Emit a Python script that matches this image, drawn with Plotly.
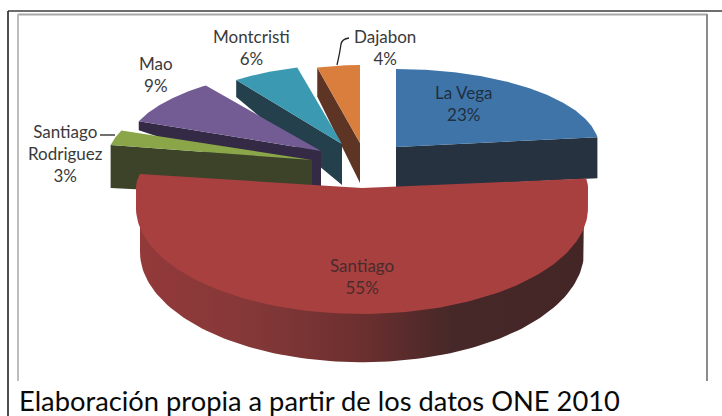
import numpy as np
import plotly.graph_objects as go

# --- data ---
categories = ["La Vega", "Santiago", "Santiago<br>Rodriguez", "Mao", "Montcristi", "Dajabon"]
values = [23, 55, 3, 9, 6, 4]
caption = "Elaboración propia a partir de los datos ONE 2010"

# --- per-slice projection (style/geometry of the 3D look), pixel units ---
centers = [(396, 147), (362, 188), (312, 160), (321, 151), (342, 144), (360, 143)]
rx = [203, 226, 205, 196, 180, 172]
ry_far = [78, 75, 80, 81, 79, 78]
ry_near = [78, 106, 80, 81, 79, 78]
near_drop = [0, 20, 0, 0, 0, 0]
depth_apex = [41, 44, 38, 40, 41, 40]
depth_rim = [41, 44, 43, 9, 17, 29]
top_colors = ["#3f74a9", "#a84040", "#8aa648", "#735b93", "#3b9ab1", "#d97e3c"]
side_colors = ["#26323f", "#6b2e2e", "#3c4329", "#342a45", "#24404d", "#5e3525"]
label_colors = ["#1f2f40", "#4a2b2b", "#3a3a3a", "#3a3a3a", "#3a3a3a", "#3a3a3a"]
label_pos = [(463, 103), (362, 276), (65, 153), (156, 74), (251, 47), (385, 47)]
draw_order = [5, 4, 3, 2, 0, 1]
FONT = "Lato"

edges = np.cumsum([0] + values) / sum(values) * 360.0


def rim(i, deg):
    """Project a clockwise-from-top angle to the slice's tilted ellipse."""
    t = np.radians(deg)
    u, v = np.sin(t), np.cos(t)
    cx, cy = centers[i]
    x = cx + rx[i] * u
    y = np.where(v >= 0, cy - ry_far[i] * v, cy + near_drop[i] - ry_near[i] * v)
    return x, y


fig = go.Figure()


def poly(xs, ys, color, **kw):
    fig.add_trace(go.Scatter(x=list(xs), y=list(ys), mode="lines", fill="toself",
                             fillcolor=color, line=dict(width=0, color=color),
                             hoverinfo="skip", showlegend=False, **kw))


for i in draw_order:
    a0, a1 = edges[i], edges[i + 1]
    cx, cy = centers[i]
    ang = np.linspace(a0, a1, 140)
    xs, ys = rim(i, ang)
    if categories[i] == "Santiago":
        # curved outer wall, shaded left to right; rises behind the top face
        t = np.radians(np.linspace(90, 270, 120))
        bx = cx + 222 * np.sin(t)
        by = cy + near_drop[i] + depth_apex[i] - ry_near[i] * 1.04 * np.cos(t)
        top = cy + near_drop[i]
        fig.add_trace(go.Scatter(
            x=[cx + 222] + list(bx) + [cx - 222],
            y=[top] + list(by) + [top], mode="lines", fill="toself",
            line=dict(width=0, color="#6b2e2e"), hoverinfo="skip", showlegend=False,
            fillgradient=dict(type="horizontal", colorscale=[
                [0, "#93393a"], [0.25, "#853838"], [0.5, "#6c2f2f"],
                [0.7, "#472828"], [1, "#442626"]])))
    else:
        # straight cut wall along the radial edge that faces the viewer
        edge = a1 if categories[i] == "La Vega" else a0
        ex, ey = rim(i, edge)
        ex, ey = float(ex), float(ey)
        poly([cx, ex, ex, cx], [cy, ey, ey + depth_rim[i], cy + depth_apex[i]], side_colors[i])
    poly(list(xs) + [cx], list(ys) + [cy], top_colors[i])

# labels: name and share, read from the same arrays
annotations = []
for i, name in enumerate(categories):
    lx, ly = label_pos[i]
    annotations.append(dict(x=lx, y=ly, xref="x", yref="y", showarrow=False, align="center",
                            text=f"{name}<br>{values[i]}%",
                            font=dict(family=FONT, size=17, color=label_colors[i])))
annotations.append(dict(x=17, y=400, xref="x", yref="y", showarrow=False, xanchor="left",
                        text=caption, font=dict(family=FONT, size=27.3, color="#0a0a0a")))

frame = dict(type="line", xref="x", yref="y")
shapes = [
    dict(frame, x0=8, y0=11, x1=722, y1=11, line=dict(color="#3c3c3c", width=1.6)),
    dict(frame, x0=8, y0=11, x1=8, y1=416, line=dict(color="#222222", width=1.6)),
    dict(frame, x0=18, y0=14.5, x1=707, y1=14.5, line=dict(color="#a8a8a8", width=2)),
    dict(frame, x0=18, y0=14, x1=18, y1=381, line=dict(color="#bdbdbd", width=2)),
    dict(frame, x0=707, y0=14, x1=707, y1=381, line=dict(color="#8c8c8c", width=2)),
    dict(type="path", xref="x", yref="y", path="M 337 65 Q 340 52 341 44 Q 342 39 349 38",
         line=dict(color="#222222", width=1.3)),
    dict(frame, x0=100, y0=135, x1=115, y1=135, line=dict(color="#222222", width=1.3)),
]

fig.update_layout(
    width=722, height=416, margin=dict(l=0, r=0, t=0, b=0),
    paper_bgcolor="white", plot_bgcolor="white", showlegend=False,
    xaxis=dict(range=[0, 722], visible=False, fixedrange=True),
    yaxis=dict(range=[416, 0], visible=False, fixedrange=True),
    annotations=annotations, shapes=shapes,
)
fig.write_html("out.html", config={"displayModeBar": False, "responsive": False},
               post_script="document.body.style.margin='0';document.body.style.overflow='hidden';")
